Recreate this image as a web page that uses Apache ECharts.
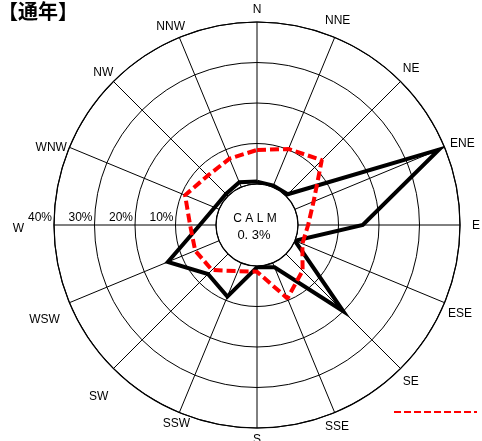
<!DOCTYPE html>
<html><head><meta charset="utf-8">
<script src="https://cdn.jsdelivr.net/npm/echarts@6/dist/echarts.min.js"></script>
<style>html,body{margin:0;padding:0;background:#fff}#c{width:482px;height:441px}</style>
</head><body><div id="c"></div>
<script>
// ---- data ----
const directions = ['N','NNE','NE','ENE','E','ESE','SE','SSE','S','SSW','SW','WSW','W','WNW','NW','NNW'];
const solidValues  = [0.6,0.4,0.6,38.5,16,0,20,1.2,0.3,9,7,13.7,4,1.2,0.7,1.3];
const dashedValues = [8.4,10.2,12.5,5,2.5,2,5.8,9.5,1.4,2.2,5.6,6.4,6.4,9.1,7.1,7.6];
const radiusMax = 40;
const radiusStep = 10;
const calmLabel = 'C A L M';
const calmValue = '0. 3%';
const titleText = '【通年】';

// ---- label position tweaks (style, not data) ----
const labelShift = [[0,0],[-12,-5],[-2,-3],[0,5],[6,1],[-2,3],[-2,3],[-12,3],[0,0],[13,0],[-1,18],[-4,9],[-24,4],[3,9],[4,1],[8,1]];

const CX = 257, CY = 225, R0 = 41, R1 = 203, LM = 6;
const N = directions.length;
const rich = {};
directions.forEach((d, i) => {
  const th = i * 360 / N * Math.PI / 180;
  const s = Math.sin(th), c = Math.cos(th);
  const R = R1 + LM;
  const h = Math.abs(s * R) / R1 < 0.3 ? 'center' : (s > 0 ? 'left' : 'right');
  const v = Math.abs(c * R) / R1 < 0.3 ? 'middle' : (c < 0 ? 'top' : 'bottom');
  const [dx, dy] = labelShift[i];
  const p = [0, 0, 0, 0];
  if (h === 'left') p[3] = dx; else if (h === 'right') p[1] = -dx; else p[3] = 2 * dx;
  if (v === 'top') p[0] = dy; else if (v === 'bottom') p[2] = -dy; else p[0] = 2 * dy;
  rich['d' + i] = {padding: p, fontSize: 12, color: '#000', fontFamily: 'Liberation Sans'};
});

function closed(vals) {
  const d = vals.map((v, i) => [v, i]);
  d.push([vals[0], vals.length]);
  return d;
}

const chart = echarts.init(document.getElementById('c'));
chart.setOption({
  animation: false,
  backgroundColor: '#fff',
  title: {text: titleText, left: -2, top: 1, padding: 0,
    textStyle: {fontSize: 20, fontWeight: 'bold', color: '#000', fontFamily: 'Noto Sans CJK JP'}},
  legend: {data: ['dashed'], left: 388, top: 400, itemWidth: 83, itemHeight: 14,
    formatter: () => '', lineStyle: {type: [7, 3]},
    itemStyle: {opacity: 0, color: 'transparent', borderWidth: 0}},
  polar: [
    {center: [CX, CY], radius: [R0, R1]},
    {center: [CX, CY], radius: [R0, R1]}
  ],
  angleAxis: [
    {polarIndex: 0, type: 'value', min: 0, max: N, interval: 1, startAngle: 90, clockwise: true,
      axisLine: {lineStyle: {color: '#000', width: 1.2}},
      axisTick: {show: false},
      splitLine: {show: true, lineStyle: {color: '#000', width: 1}},
      axisLabel: {margin: LM, formatter: v => (v < N ? '{d' + v + '|' + directions[v] + '}' : ''), rich: rich}},
    {polarIndex: 1, type: 'value', startAngle: 180, show: false}
  ],
  radiusAxis: [
    {polarIndex: 0, min: 0, max: radiusMax, interval: radiusStep,
      axisLine: {show: false}, axisTick: {show: false}, axisLabel: {show: false},
      splitLine: {show: true, lineStyle: {color: '#000', width: 1}}},
    {polarIndex: 1, min: 0, max: radiusMax, interval: radiusStep,
      axisLine: {show: false}, axisTick: {show: false}, splitLine: {show: false},
      axisLabel: {margin: -1, align: 'right', verticalAlign: 'bottom', padding: [0, 2, 0, 0],
        fontSize: 12, color: '#000', fontFamily: 'Liberation Sans',
        formatter: v => v > 0 ? v + '%' : ''}}
  ],
  graphic: [
    {type: 'text', x: 255, y: 219, style: {text: calmLabel, align: 'center', verticalAlign: 'middle', fill: '#000', font: '12px Liberation Sans'}},
    {type: 'text', x: 254, y: 235, style: {text: calmValue, align: 'center', verticalAlign: 'middle', fill: '#000', font: '13px Liberation Sans'}}
  ],
  series: [
    {name: 'solid', type: 'line', coordinateSystem: 'polar', polarIndex: 0, data: closed(solidValues),
      symbol: 'none', lineStyle: {color: '#000', width: 4, join: 'miter', miterLimit: 20}, z: 3},
    {name: 'dashed', type: 'line', coordinateSystem: 'polar', polarIndex: 0, data: closed(dashedValues),
      symbol: 'none', itemStyle: {color: '#ff0000'}, lineStyle: {color: '#ff0000', width: 4, type: [9, 4]}, z: 4}
  ]
});
</script></body></html>
